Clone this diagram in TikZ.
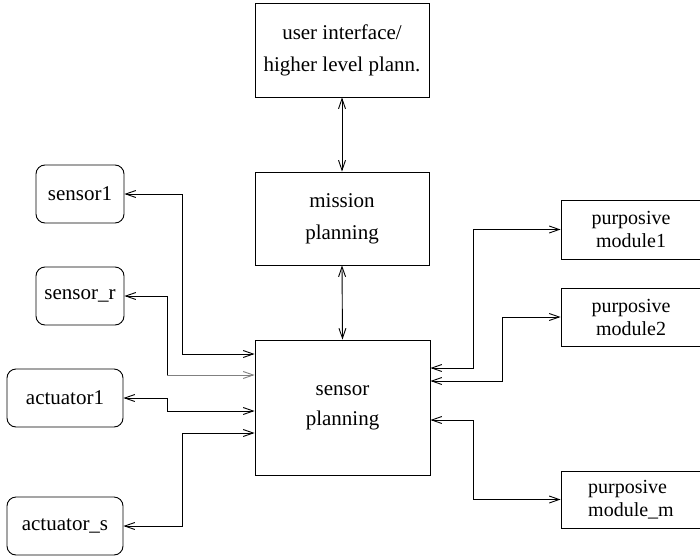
\documentclass[tikz,border=0pt]{standalone}
\usepackage{fontspec}
\setmainfont{Liberation Serif}
\usetikzlibrary{arrows.meta}
\begin{document}
\begin{tikzpicture}[x=1pt,y=-1pt,
  line width=0.9pt,
  >={Straight Barb[length=10pt,width=7pt]},
  box/.style={draw,rectangle,inner sep=0pt,align=center,font=\fontsize{21}{32}\selectfont},
  rbox/.style={box,rounded corners=9pt},
  mbox/.style={box,font=\fontsize{20}{23}\selectfont},
  conn/.style={<->}]
\useasboundingbox (0,0) rectangle (700,559);
\node[box,minimum width=174pt,minimum height=94pt] (ui) at (342,50) {user interface/\\higher level plann.};
\node[box,minimum width=174pt,minimum height=93pt] (mp) at (342,218.5) {mission\\planning};
\node[box,minimum width=175pt,minimum height=135pt,font=\fontsize{21}{30}\selectfont] (sp) at (342.5,407.5) {sensor\\planning};
\node[rbox,minimum width=88pt,minimum height=58pt] (s1) at (80,194) {sensor1};
\node[rbox,minimum width=88pt,minimum height=58pt] (sr) at (80,296) {sensor\_r};
\node[rbox,minimum width=116pt,minimum height=58pt] (a1) at (65,398) {actuator1};
\node[rbox,minimum width=116pt,minimum height=58pt] (as) at (65,526) {actuator\_s};
\node[mbox,minimum width=140pt,minimum height=59pt] (m1) at (631,229.5) {purposive\\module1};
\node[mbox,minimum width=140pt,minimum height=58pt] (m2) at (631,317) {purposive\\module2};
\node[mbox,align=left,minimum width=140pt,minimum height=57pt] (mm) at (631,499.5) {purposive\\module\_m};
\coordinate (srk) at (167,375);
\draw[conn] (ui.south) -- (mp.north);
\draw[conn] (mp.south) -- (sp.north);
\draw[conn] (s1.east) -| (182,354) -- (sp.west |- 0,354);
\draw[<-] (sr.east) -| (srk);
\draw[->,gray] (srk) -- (sp.west |- srk);
\draw[conn] (a1.east) -| (167,411) -- (sp.west |- 0,411);
\draw[conn] (as.east) -| (182,433) -- (sp.west |- 0,433);
\draw[conn] (sp.east |- 0,368) -| (473,229.5) -- (m1.west);
\draw[conn] (sp.east |- 0,381) -| (502,317) -- (m2.west);
\draw[conn] (sp.east |- 0,420) -| (473,499.5) -- (mm.west);
\end{tikzpicture}
\end{document}
